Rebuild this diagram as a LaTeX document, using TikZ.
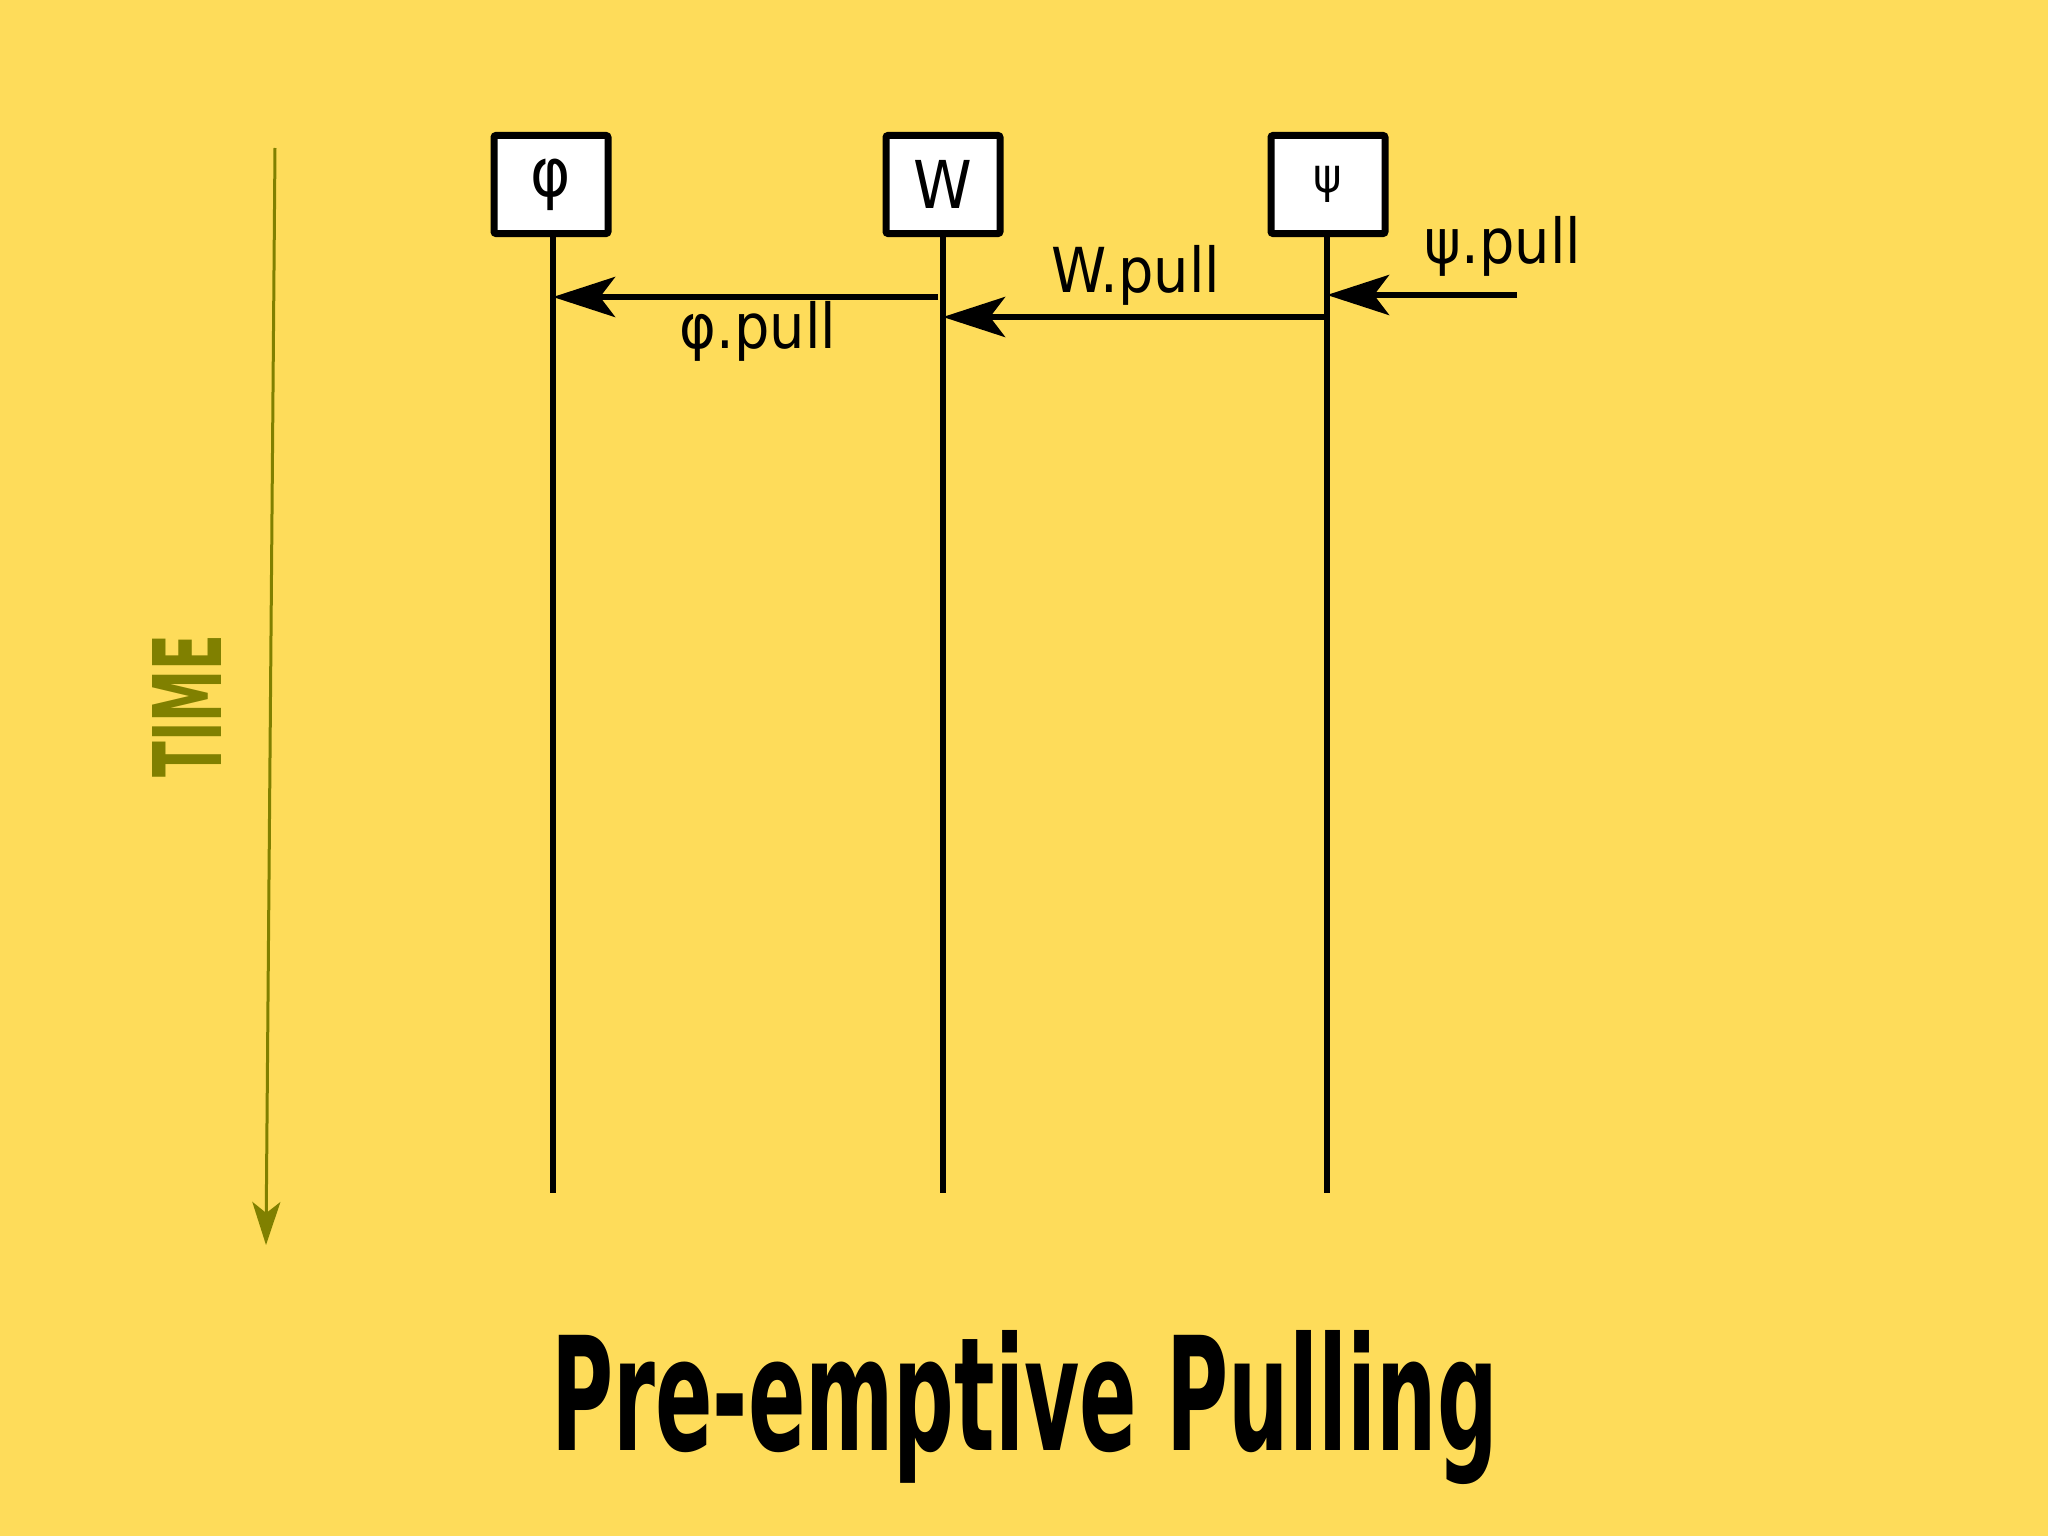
\documentclass[tikz,border=0pt]{standalone}
\usepackage{fontspec}
\setmainfont{DejaVu Sans}
\newfontfamily\lblfont[FakeStretch=0.9]{DejaVu Sans}
\usetikzlibrary{arrows.meta}
\definecolor{bgcol}{RGB}{254,220,90}
\definecolor{timecol}{RGB}{128,128,0}
\begin{document}
\begin{tikzpicture}[x=1pt,y=-1pt,
  actor/.style={draw=black,fill=white,line width=7pt,rounded corners=2pt,minimum width=114pt,minimum height=98pt,inner sep=0pt},
  life/.style={line width=6pt},
  msg/.style={line width=6pt,-{Stealth[length=62pt,width=40pt,inset=15pt]}},
  lbl/.style={font={\lblfont\fontsize{62}{66}\selectfont},anchor=base,inner sep=0pt}]
\fill[bgcol] (0,0) rectangle (2048,1536);
\useasboundingbox (0,0) rectangle (2048,1536);
% actors
\node[actor,font={\lblfont\fontsize{68}{72}\selectfont}] (phi) at (551,184.5) {φ};
\node[actor,font={\lblfont\fontsize{66}{72}\selectfont}] (w) at (943,184.5) {W};
\node[actor,font={\lblfont\fontsize{48}{52}\selectfont}] (psi) at (1328,184.5) {ψ};
% lifeline ends
\coordinate (phiE) at (553,1193);
\coordinate (wE) at (943,1193);
\coordinate (psiE) at (1327,1193);
\draw[life] (phi.south -| phiE) -- (phiE);
\draw[life] (w.south) -- (wE);
\draw[life] (psi.south -| psiE) -- (psiE);
% message points
\coordinate (phiA) at (553,297);
\coordinate (wA) at (938,297);
\coordinate (wB) at (943,317);
\coordinate (psiB) at (1327,317);
\coordinate (psiC) at (1327,295);
\coordinate (extC) at (1517,295);
\draw[msg] (wA) -- (phiA);
\draw[msg] (psiB) -- (wB);
\draw[msg] (extC) -- (psiC);
% labels
\node[lbl] (lphi) at (758,348) {φ.pull};
\node[lbl] (lw) at (1136,292) {W.pull};
\node[lbl] (lpsi) at (1503,263) {ψ.pull};
% time axis
\coordinate (tTop) at (275,148);
\coordinate (tBot) at (266,1245);
\draw[timecol,line width=3pt,-{Stealth[length=43pt,width=28pt,inset=11pt]}] (tTop) -- (tBot);
\node[rotate=90,text=timecol,inner sep=0pt] (time) at (187,706) {\resizebox{143pt}{69pt}{\bfseries TIME}};
% title
\node[anchor=base,inner sep=0pt] (title) at (1024.5,1450) {\resizebox{946pt}{120pt}{\bfseries Pre-emptive Pulling}};
\end{tikzpicture}
\end{document}
